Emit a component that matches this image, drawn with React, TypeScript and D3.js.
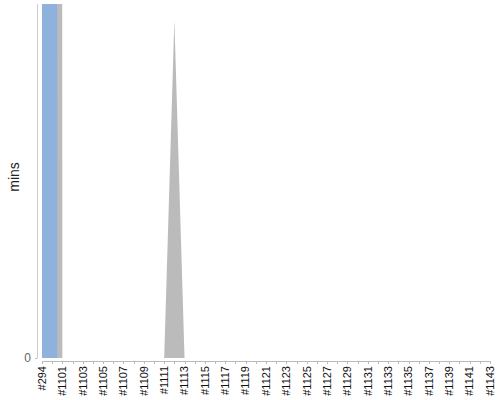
import React from 'react';
import * as d3 from 'd3';

// build labels along the x axis
const builds = [
  '#294', '#1100', '#1101', '#1102', '#1103', '#1104', '#1105', '#1106', '#1107', '#1108',
  '#1109', '#1110', '#1111', '#1112', '#1113', '#1114', '#1115', '#1116', '#1117', '#1118',
  '#1119', '#1120', '#1121', '#1122', '#1123', '#1124', '#1125', '#1126', '#1127', '#1128',
  '#1129', '#1130', '#1131', '#1132', '#1133', '#1134', '#1135', '#1136', '#1137', '#1138',
  '#1139', '#1140', '#1141', '#1142', '#1143',
];

// total build time (grey area), minutes
const totalMins = [
  1520, 1480, 0, 0, 0, 0, 0, 0, 0, 0,
  0, 0, 0, 21, 0, 0, 0, 0, 0, 0,
  0, 0, 0, 0, 0, 0, 0, 0, 0, 0,
  0, 0, 0, 0, 0, 0, 0, 0, 0, 0,
  0, 0, 0, 0, 0,
];

// stage time (blue area), minutes
const stageMins = [
  1500, 1460, 0, 0, 0, 0, 0, 0, 0, 0,
  0, 0, 0, 0, 0, 0, 0, 0, 0, 0,
  0, 0, 0, 0, 0, 0, 0, 0, 0, 0,
  0, 0, 0, 0, 0, 0, 0, 0, 0, 0,
  0, 0, 0, 0, 0,
];

const yTicks = [0];
const yMax = 22;

const W = 500;
const H = 400;
const left = 42;
const right = 490;
const top = 4;
const bottom = 358;

export default function App() {
  const x = d3.scalePoint<string>().domain(builds).range([left, right]);
  const y = d3.scaleLinear().domain([0, yMax]).range([bottom, top]);

  const greyArea = d3.area<number>()
    .x((_, i) => x(builds[i]) as number)
    .y0(y(0))
    .y1(d => y(d))
    .curve(d3.curveLinear);

  const blueArea = d3.area<number>()
    .x((_, i) => x(builds[i]) as number)
    .y0(y(0))
    .y1(d => y(d))
    .curve(d3.curveStep);

  const axisY = bottom + 3;
  const font = 'Arial, "Liberation Sans", sans-serif';

  return (
    <div style={{ position: 'fixed', left: 0, top: 0 }}>
      <svg width={W} height={H} style={{ display: 'block', background: '#fff' }}>
        <defs>
          <clipPath id="plot">
            <rect x={left} y={top} width={right - left} height={bottom - top} />
          </clipPath>
        </defs>

        <g clipPath="url(#plot)">
          <path d={greyArea(totalMins) || ''} fill="#bbbbbb" />
          <path d={blueArea(stageMins) || ''} fill="#8fb2dd" />
        </g>

        {/* y axis */}
        <line x1={37.5} x2={37.5} y1={top} y2={bottom} stroke="#cccccc" />
        {yTicks.map(t => (
          <g key={t}>
            <line x1={35} x2={37.5} y1={y(t) + 0.5} y2={y(t) + 0.5} stroke="#bbbbbb" />
            <text x={31} y={y(t)} dy="0.35em" textAnchor="end" fontFamily={font} fontSize={12} fill="#666">
              {t}
            </text>
          </g>
        ))}
        <text
          transform={`translate(19,177) rotate(-90)`}
          textAnchor="middle"
          fontFamily={font}
          fontSize={14}
          fill="#222"
        >
          mins
        </text>

        {/* x axis */}
        <line x1={left} x2={right} y1={axisY + 0.5} y2={axisY + 0.5} stroke="#bbbbbb" />
        {builds.map((b, i) => {
          const px = Math.round(x(b) as number) + 0.5;
          return (
            <g key={b}>
              <line x1={px} x2={px} y1={axisY} y2={axisY + 3} stroke="#bbbbbb" />
              {i % 2 === 0 && (
                <text
                  transform={`translate(${x(b)},${axisY + 5}) rotate(-90)`}
                  textAnchor="end"
                  dy="0.35em"
                  fontFamily={font}
                  fontSize={11}
                  fill="#111"
                >
                  {b}
                </text>
              )}
            </g>
          );
        })}
      </svg>
    </div>
  );
}
